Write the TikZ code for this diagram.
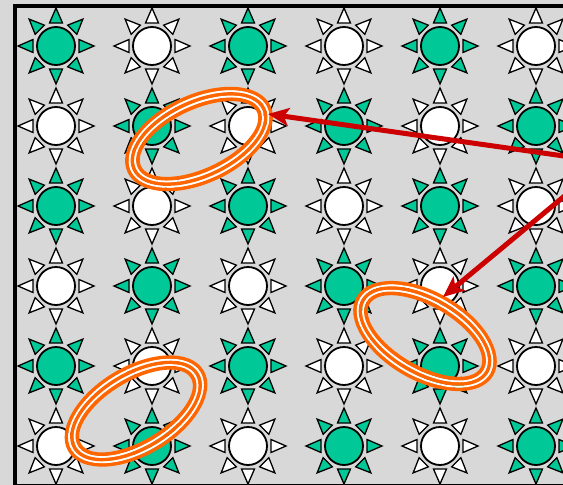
\documentclass[tikz,border=0pt]{standalone}
\usetikzlibrary{calc,arrows.meta}

\definecolor{sungreen}{RGB}{0,200,150}
\definecolor{panelgrey}{RGB}{216,216,216}
\definecolor{ringorange}{RGB}{255,102,0}
\definecolor{arrowred}{RGB}{204,0,0}

\begin{document}
\begin{tikzpicture}[x=1pt, y=-1pt,
        disc/.style={circle, draw=black, line width=1.8pt, minimum size=38pt, inner sep=0pt},
        ray/.style={draw=black, line width=1.3pt, line join=miter},
        ring/.style={draw=ringorange, line width=3.6pt},
        gap/.style={draw=white, line width=2pt},
        pointer/.style={draw=arrowred, line width=5pt, -{Stealth[length=21pt, width=18pt, inset=5pt]}}
    ]

    % Panel and frame
    \fill[panelgrey] (0,0) rectangle (563,485);
    \useasboundingbox (0,0) rectangle (563,485);
    \clip (0,0) rectangle (563,485);
    \draw[line width=4pt] (15,6) rectangle (620,485.5);

    % Grid of suns, colours alternate like a chessboard
    \foreach \r in {0,...,5}{
        \foreach \c in {0,...,5}{
            \pgfmathtruncatemacro{\odd}{mod(\r+\c,2)}
            \ifnum\odd=0 \def\suncol{sungreen}\else\def\suncol{white}\fi
            \node[disc, fill=\suncol] (s-\r-\c) at ({56+96*\c},{46+80*\r}) {};
            \foreach \a in {0,45,...,315}
                \draw[ray, fill=\suncol] ($(s-\r-\c)+(\a:38)$) -- ($(s-\r-\c)+(\a:23)+(\a+90:6.5)$)
                    -- ($(s-\r-\c)+(\a:23)+(\a-90:6.5)$) -- cycle;
        }
    }

    % Rings round the marked pairs
    \foreach \cx/\cy/\tilt in {199/139/25, 425/336/-30, 136/411/31}{
        \draw[ring] (\cx,\cy) ellipse [x radius=77, y radius=42.5, rotate=\tilt];
        \draw[gap] (\cx,\cy) ellipse [x radius=74.2, y radius=39.7, rotate=\tilt];
        \draw[ring] (\cx,\cy) ellipse [x radius=71.4, y radius=36.9, rotate=\tilt];
        \draw[gap] (\cx,\cy) ellipse [x radius=68.6, y radius=34.1, rotate=\tilt];
        \draw[ring] (\cx,\cy) ellipse [x radius=65.8, y radius=31.3, rotate=\tilt];
    }

    % Pointers
    \coordinate (tail-a) at (585,159);
    \coordinate (tip-a) at (268,114);
    \coordinate (tail-b) at (585,179);
    \coordinate (tip-b) at (443,297);
    \draw[pointer] (tail-a) -- (tip-a);
    \draw[pointer] (tail-b) -- (tip-b);

\end{tikzpicture}
\end{document}
